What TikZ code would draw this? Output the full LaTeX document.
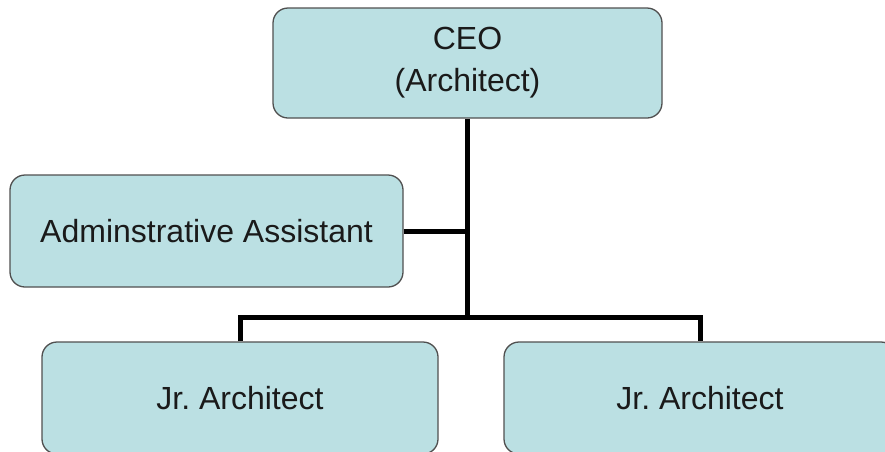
\documentclass[tikz,border=0pt]{standalone}
\usepackage{fontspec}
\setmainfont{Liberation Sans}
\definecolor{boxfill}{HTML}{BBE0E3}
\definecolor{boxline}{HTML}{505050}
\definecolor{txt}{HTML}{1A1A1A}

\begin{document}
\begin{tikzpicture}[x=1pt,y=-1pt,
  role/.style={draw=boxline, line width=1.3pt, fill=boxfill, rounded corners=15pt,
    text=txt, align=center, inner sep=0pt,
    font=\fontsize{32}{42}\selectfont},
  link/.style={line width=5pt, black}]
\useasboundingbox (0,0) rectangle (885,451);
\clip (0,0) rectangle (885,451);

% Boxes
\node[role, minimum width=389pt, minimum height=110pt] (ceo) at (467.5,63) {CEO\\(Architect)};
\node[role, minimum width=393pt, minimum height=112pt] (admin) at (206.5,231) {Adminstrative Assistant};
\node[role, minimum width=396pt, minimum height=112pt] (jrA) at (240,398) {Jr.\ Architect};
\node[role, minimum width=392pt, minimum height=112pt] (jrB) at (700,398) {Jr.\ Architect};

% Connectors
\coordinate (bar) at (467.5,317);
\draw[link] (ceo.south) -- (bar);
\draw[link] (admin.east) -- (admin.east -| bar);
\draw[link] (jrA.north) |- (bar) -| (jrB.north);
\end{tikzpicture}
\end{document}
